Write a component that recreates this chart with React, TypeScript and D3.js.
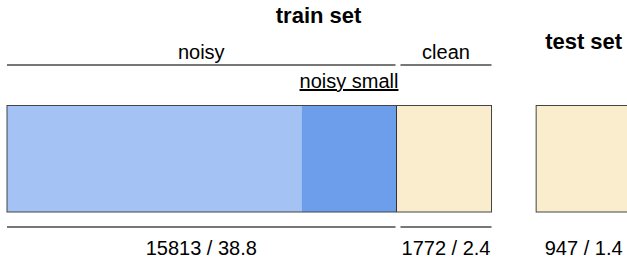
import * as d3 from 'd3';
import React, { useEffect } from 'react';

// bar segments, in relative width units
const segNames = ['noisy', 'noisy small', 'clean', 'test set'];
const segStart = [0, 3.1, 4.1, 5.57];
const segEnd = [3.1, 4.1, 5.1, 6.57];
const segColors = ['#a4c2f4', '#6d9eeb', '#f9edcd', '#f9edcd'];

// labelled groups above / below the bar
const groupNames = ['noisy', 'clean', 'test set'];
const groupStart = [0, 4.1, 5.57];
const groupEnd = [4.1, 5.1, 6.57];
const groupStats = ['15813 / 38.8', '1772 / 2.4', '947 / 1.4'];

const titles = ['train set', 'test set'];

const W = 627;
const H = 258;

export default function App() {
  useEffect(() => {
    document.body.style.margin = '0';
  }, []);

  const x = d3.scaleLinear().domain([0, 6.6]).range([7, 7 + 6.6 * 95]);
  const y = d3.scaleLinear().domain([0, 1]).range([105.5, 212]);
  const font = 'Liberation Sans, Arial, Helvetica, sans-serif';
  const lineColor = '#4a4a4a';

  // outline rects: train set bar (noisy + noisy small + clean) and test set bar
  const outlines = [
    [segStart[0], segEnd[2]],
    [segStart[3], segEnd[3]],
  ];

  return (
    <svg width={W} height={H} style={{ display: 'block', fontFamily: font }}>
      {/* titles */}
      <text x={x(3.28)} y={23} textAnchor="middle" fontSize={22} fontWeight="bold">
        {titles[0]}
      </text>
      <text
        x={(x(groupStart[2]) + x(groupEnd[2])) / 2}
        y={49}
        textAnchor="middle"
        fontSize={22}
        fontWeight="bold"
      >
        {titles[1]}
      </text>

      {/* group labels and rules (train set only) */}
      {groupNames.slice(0, 2).map((g, i) => {
        const x0 = x(groupStart[i]) + (i === 0 ? 0 : 4);
        const x1 = x(groupEnd[i]) - (i === 0 ? 1 : 0);
        return (
          <g key={g}>
            <text x={(x0 + x1) / 2} y={59} textAnchor="middle" fontSize={20}>
              {g}
            </text>
            <line x1={x0} x2={x1} y1={65} y2={65} stroke={lineColor} strokeWidth={1.5} />
            <line x1={x0} x2={x1} y1={227} y2={227} stroke={lineColor} strokeWidth={1.5} />
          </g>
        );
      })}

      {/* noisy small sub label */}
      <text
        x={(x(segStart[1]) + x(segEnd[1])) / 2}
        y={88}
        textAnchor="middle"
        fontSize={20}
        textDecoration="underline"
      >
        {segNames[1]}
      </text>

      {/* segments */}
      {segNames.map((s, i) => (
        <rect
          key={s}
          x={x(segStart[i])}
          y={y(0)}
          width={x(segEnd[i]) - x(segStart[i])}
          height={y(1) - y(0)}
          fill={segColors[i]}
        />
      ))}
      <line
        x1={x(segEnd[1])}
        x2={x(segEnd[1])}
        y1={y(0)}
        y2={y(1)}
        stroke="#333"
        strokeWidth={1}
      />
      {outlines.map((o, i) => (
        <rect
          key={i}
          x={x(o[0])}
          y={y(0)}
          width={x(o[1]) - x(o[0])}
          height={y(1) - y(0)}
          fill="none"
          stroke="#444"
          strokeWidth={1}
        />
      ))}

      {/* counts / hours */}
      {groupStats.map((t, i) => {
        const x0 = x(groupStart[i]) + (i === 1 ? 4 : 0);
        const x1 = x(groupEnd[i]) - (i === 0 ? 1 : 0);
        return (
          <text key={t} x={(x0 + x1) / 2} y={255} textAnchor="middle" fontSize={20}>
            {t}
          </text>
        );
      })}
    </svg>
  );
}
